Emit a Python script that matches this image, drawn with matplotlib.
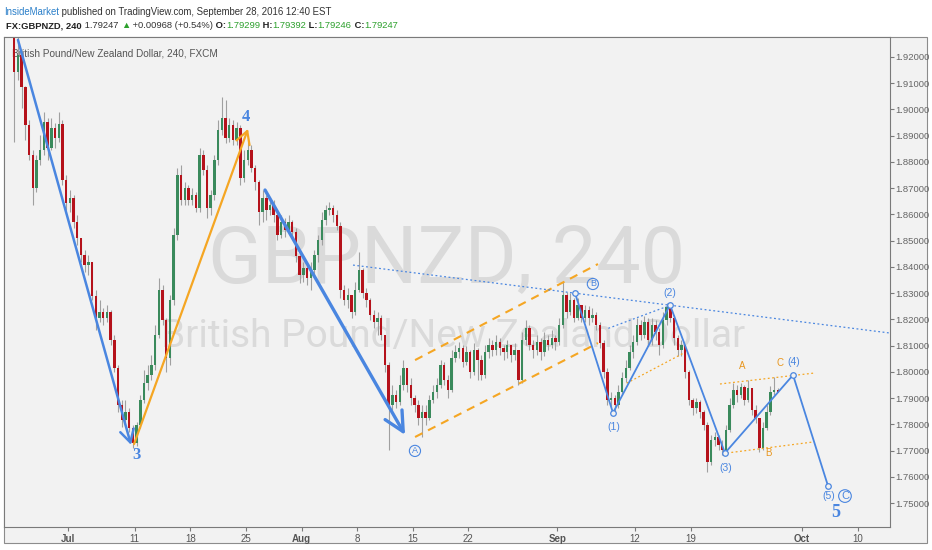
import matplotlib
matplotlib.use('Agg')
import matplotlib.pyplot as plt
import numpy as np
from matplotlib.patches import Rectangle

W, H = 932, 550
FONT = ['Liberation Sans', 'DejaVu Sans']

# ---------------- data ----------------
first_day = -5          # trading-day index of first bar (Jul 1 = 0)
bars_per_day = 3
first_open = 1.9330

closes = [
    1.9143, 1.9208, 1.9086,  1.8941, 1.8826, 1.8701,  1.8807, 1.8846, 1.8952,
    1.8853, 1.8929, 1.8891,  1.8945, 1.8731, 1.8644,  1.8663, 1.8571, 1.8510,
    1.8445, 1.8407, 1.8419,  1.8289, 1.8205, 1.8228,  1.8205, 1.8228, 1.8122,
    1.8015, 1.7874, 1.7817,  1.7847, 1.7786, 1.7729,  1.7798, 1.7893, 1.7958,
    1.7988, 1.8026, 1.8141,  1.8312, 1.8198, 1.8053,  1.8274, 1.8522, 1.8750,
    1.8655, 1.8701, 1.8655,  1.8674, 1.8625, 1.8826,  1.8769, 1.8625, 1.8674,
    1.8807, 1.8922, 1.8968,  1.8891, 1.8941, 1.8884,  1.8929, 1.8739, 1.8807,
    1.8846, 1.8777, 1.8724,  1.8609, 1.8663, 1.8617,  1.8636, 1.8598, 1.8522,
    1.8571, 1.8541, 1.8571,  1.8533, 1.8442, 1.8369,  1.8396, 1.8358, 1.8388,
    1.8445, 1.8503, 1.8579,  1.8617, 1.8625, 1.8598,  1.8556, 1.8312, 1.8274,
    1.8293, 1.8228, 1.8312,  1.8388, 1.8301, 1.8274,  1.8217, 1.8190, 1.8205,
    1.8141, 1.8026, 1.7874,  1.7912, 1.7885, 1.7950,  1.8015, 1.7950, 1.7901,
    1.7874, 1.7824, 1.7847,  1.7824, 1.7893, 1.7923,  1.7950, 1.8026, 1.7969,
    1.7931, 1.8053, 1.8076,  1.8091, 1.8038, 1.8076,  1.8000, 1.8084, 1.8045,
    1.7988, 1.8076, 1.8103,  1.8084, 1.8114, 1.8091,  1.8076, 1.8103, 1.8064,
    1.8084, 1.7969, 1.8122,  1.8167, 1.8103, 1.8084,  1.8114, 1.8076, 1.8122,
    1.8103, 1.8130, 1.8114,  1.8179, 1.8293, 1.8228,  1.8274, 1.8205, 1.8255,
    1.8205, 1.8236, 1.8205,  1.8217, 1.8179, 1.8110,  1.8000, 1.7893, 1.7901,
    1.7874, 1.7923, 1.7977,  1.8015, 1.8076, 1.8114,  1.8179, 1.8141, 1.8190,
    1.8122, 1.8179, 1.8152,  1.8103, 1.8198, 1.8248,  1.8205, 1.8130, 1.8084,
    1.8103, 1.8000, 1.7893,  1.7862, 1.7885, 1.7847,  1.7798, 1.7657, 1.7741,
    1.7752, 1.7722, 1.7702,  1.7779, 1.7874, 1.7931,  1.7912, 1.7943, 1.7893,
    1.7939, 1.7855, 1.7824,  1.7710, 1.7786, 1.7847,  1.7923, 1.7930, 1.79247,
]
highs = [
    1.9350, 1.9284, 1.9227,  1.9090, 1.8960, 1.8846,  1.8826, 1.8903, 1.8990,
    1.8968, 1.8968, 1.8949,  1.8990, 1.8960, 1.8750,  1.8693, 1.8674, 1.8598,
    1.8510, 1.8465, 1.8445,  1.8419, 1.8312, 1.8274,  1.8244, 1.8255, 1.8236,
    1.8141, 1.8026, 1.7893,  1.7893, 1.7862, 1.7798,  1.7809, 1.7912, 1.8007,
    1.8026, 1.8064, 1.8179,  1.8358, 1.8331, 1.8205,  1.8293, 1.8548, 1.8777,
    1.8788, 1.8724, 1.8712,  1.8701, 1.8686, 1.8853,  1.8846, 1.8788, 1.8693,
    1.8826, 1.8960, 1.9047,  1.9036, 1.8968, 1.8960,  1.8952, 1.8941, 1.8846,
    1.8884, 1.8865, 1.8788,  1.8731, 1.8693, 1.8674,  1.8663, 1.8655, 1.8617,
    1.8598, 1.8586, 1.8598,  1.8579, 1.8548, 1.8445,  1.8419, 1.8407, 1.8419,
    1.8465, 1.8522, 1.8609,  1.8636, 1.8648, 1.8636,  1.8617, 1.8571, 1.8331,
    1.8320, 1.8293, 1.8343,  1.8457, 1.8396, 1.8320,  1.8282, 1.8236, 1.8228,
    1.8217, 1.8141, 1.8038,  1.7950, 1.7931, 1.7988,  1.8045, 1.8015, 1.7977,
    1.7912, 1.7893, 1.7874,  1.7874, 1.7912, 1.7950,  1.7977, 1.8045, 1.8038,
    1.7988, 1.8084, 1.8103,  1.8114, 1.8103, 1.8099,  1.8084, 1.8110, 1.8091,
    1.8064, 1.8103, 1.8130,  1.8122, 1.8141, 1.8130,  1.8103, 1.8122, 1.8103,
    1.8110, 1.8084, 1.8152,  1.8198, 1.8179, 1.8122,  1.8141, 1.8130, 1.8152,
    1.8141, 1.8160, 1.8141,  1.8205, 1.8343, 1.8305,  1.8301, 1.8282, 1.8282,
    1.8255, 1.8255, 1.8251,  1.8244, 1.8228, 1.8190,  1.8122, 1.8015, 1.7923,
    1.7912, 1.7950, 1.8000,  1.8045, 1.8103, 1.8141,  1.8205, 1.8198, 1.8213,
    1.8205, 1.8205, 1.8198,  1.8167, 1.8228, 1.8263,  1.8255, 1.8217, 1.8141,
    1.8122, 1.8103, 1.8007,  1.7901, 1.7901, 1.7893,  1.7855, 1.7809, 1.7760,
    1.7771, 1.7760, 1.7741,  1.7798, 1.7901, 1.7958,  1.7950, 1.7958, 1.7950,
    1.7969, 1.7939, 1.7874,  1.7817, 1.7809, 1.7874,  1.7946, 1.7981, 1.79392,
]
lows = [
    1.8876, 1.9112, 1.9006,  1.8884, 1.8807, 1.8636,  1.8686, 1.8788, 1.8826,
    1.8807, 1.8846, 1.8853,  1.8876, 1.8712, 1.8617,  1.8609, 1.8548, 1.8484,
    1.8419, 1.8381, 1.8369,  1.8274, 1.8160, 1.8190,  1.8179, 1.8190, 1.8103,
    1.8000, 1.7847, 1.7790,  1.7798, 1.7771, 1.7710,  1.7718, 1.7786, 1.7882,
    1.7931, 1.7969, 1.8007,  1.8130, 1.8179, 1.8000,  1.8026, 1.8255, 1.8503,
    1.8636, 1.8636, 1.8636,  1.8636, 1.8609, 1.8609,  1.8750, 1.8586, 1.8598,
    1.8655, 1.8788, 1.8903,  1.8872, 1.8876, 1.8865,  1.8865, 1.8712, 1.8724,
    1.8788, 1.8762, 1.8693,  1.8560, 1.8571, 1.8579,  1.8598, 1.8571, 1.8503,
    1.8510, 1.8514, 1.8533,  1.8510, 1.8419, 1.8339,  1.8343, 1.8331, 1.8312,
    1.8369, 1.8419, 1.8484,  1.8560, 1.8598, 1.8571,  1.8541, 1.8282, 1.8255,
    1.8244, 1.8205, 1.8217,  1.8305, 1.8282, 1.8248,  1.8198, 1.8167, 1.8141,
    1.8122, 1.8000, 1.7702,  1.7855, 1.7862, 1.7874,  1.7931, 1.7923, 1.7874,
    1.7847, 1.7798, 1.7752,  1.7798, 1.7817, 1.7882,  1.7901, 1.7939, 1.7950,
    1.7901, 1.7923, 1.8038,  1.8053, 1.8019, 1.8026,  1.7977, 1.7988, 1.7969,
    1.7969, 1.7977, 1.8053,  1.8061, 1.8064, 1.8064,  1.8045, 1.8053, 1.8038,
    1.8045, 1.7950, 1.7958,  1.8103, 1.8084, 1.8053,  1.8064, 1.8045, 1.8061,
    1.8084, 1.8091, 1.8084,  1.8103, 1.8167, 1.8205,  1.8217, 1.8190, 1.8198,
    1.8190, 1.8190, 1.8179,  1.8190, 1.8160, 1.8091,  1.7977, 1.7874, 1.7866,
    1.7843, 1.7862, 1.7912,  1.7962, 1.8007, 1.8053,  1.8103, 1.8122, 1.8130,
    1.8103, 1.8103, 1.8122,  1.8064, 1.8091, 1.8179,  1.8190, 1.8103, 1.8061,
    1.8061, 1.7977, 1.7874,  1.7836, 1.7843, 1.7824,  1.7779, 1.7619, 1.7645,
    1.7718, 1.7702, 1.7683,  1.7683, 1.7771, 1.7862,  1.7885, 1.7901, 1.7874,
    1.7885, 1.7836, 1.7805,  1.7695, 1.7702, 1.7779,  1.7836, 1.7912, 1.79246,
]

tick_days = [0, 6, 11, 16, 21, 26, 31, 36, 44, 51, 56, 66, 71]
tick_labels = ['Jul', '11', '18', '25', 'Aug', '8', '15', '22', 'Sep', '12', '19', 'Oct', '10']
month_labels = ['Jul', 'Aug', 'Sep', 'Oct']
price_ticks = [1.75, 1.76, 1.77, 1.78, 1.79, 1.80, 1.81, 1.82, 1.83,
               1.84, 1.85, 1.86, 1.87, 1.88, 1.89, 1.90, 1.91, 1.92]

# drawings (day index, price)
arrow1 = [(-4.50, 1.9265), (5.67, 1.7722)]
arrow_orange = [(5.94, 1.7725), (16.19, 1.8926)]
arrow2 = [(17.72, 1.8693), (30.31, 1.7760)]
chan_upper = [(31.21, 1.8045), (47.66, 1.8411)]
chan_lower = [(31.21, 1.7752), (47.66, 1.8110)]
trend_dotted = [(25.63, 1.8407), (74.5, 1.8145)]
sub_blue_dotted = [(48.59, 1.8166), (53.84, 1.8249)]
sub_orange_dotted = [(50.24, 1.7957), (55.33, 1.8071)]
abc_upper = [(58.63, 1.7954), (67.18, 1.7996)]
abc_lower = [(59.26, 1.7691), (67.00, 1.7733)]
wave_days = [45.59, 49.01, 54.14, 59.08, 65.20, 68.35]
wave_prices = [1.8301, 1.7844, 1.8255, 1.7691, 1.7988, 1.7565]

# ---------------- figure ----------------
BLUE = '#4a86e0'
ORANGE = '#f5a623'
UP = '#3a8a5c'
DOWN = '#b5121b'
BG = '#f2f2f2'

fig = plt.figure(figsize=(W / 100, H / 100), dpi=100, facecolor='white')
fig.patches.append(Rectangle((4 / W, 1 - 543 / H), (927 - 4) / W, (543 - 37) / H,
                             transform=fig.transFigure, facecolor=BG,
                             edgecolor='#8c8c8c', lw=0.8, zorder=-5))

ax = fig.add_axes([4 / W, 1 - 527 / H, (890 - 4) / W, (527 - 37) / H])
ax.set_zorder(1)
ax.set_facecolor(BG)
ax.set_xlim(-5.755, 73.92)
ax.set_ylim(1.74091, 1.92760)
for s in ax.spines.values():
    s.set_color('#7a7a7a')
    s.set_linewidth(0.8)

# watermark
ax.text(447 / W, 1 - 283 / H, 'GBPNZD, 240', transform=fig.transFigure, fontsize=57,
        family=['Roboto', 'DejaVu Sans'], color='#dadada', ha='center', va='baseline', zorder=0.5)
ax.text(453 / W, 1 - 347 / H, 'British Pound/New Zealand Dollar', transform=fig.transFigure,
        fontsize=28, family=['Roboto', 'DejaVu Sans'], color='#dadada', ha='center',
        va='baseline', zorder=0.5)
ax.text(12 / W, 1 - 53 / H, 'British Pound/New Zealand Dollar, 240, FXCM',
        transform=fig.transFigure, fontsize=7.2, family=FONT, color='#555555',
        ha='left', va='center', zorder=1)

# candles
c = np.array(closes)
o = np.concatenate([[first_open], c[:-1]])
h = np.maximum(np.array(highs), np.maximum(o, c))
l = np.minimum(np.array(lows), np.minimum(o, c))
n = len(c)
xs = first_day + (np.arange(n) + 0.5) / bars_per_day
ax.vlines(xs, l, h, color='#a0a0a0', lw=0.8, zorder=2)
colors = [UP if cc >= oo else DOWN for oo, cc in zip(o, c)]
body = np.maximum(np.abs(c - o), 0.0003)
ax.bar(xs, body, bottom=np.minimum(o, c), width=0.22, color=colors, lw=0, zorder=2.5)

# arrows
def arrow(pts, color, lw, hl, hw):
    ax.annotate('', xy=pts[1], xytext=pts[0],
                arrowprops=dict(arrowstyle='->,head_length=%s,head_width=%s' % (hl, hw),
                                color=color, lw=lw, shrinkA=0, shrinkB=0,
                                mutation_scale=20), zorder=4)

arrow(arrow1, BLUE, 1.8, 0.45, 0.25)
arrow(arrow_orange, ORANGE, 1.6, 0.45, 0.25)
arrow(arrow2, BLUE, 2.4, 0.7, 0.35)

# channels / trendlines
def seg(pts, **kw):
    ax.plot([pts[0][0], pts[1][0]], [pts[0][1], pts[1][1]], **kw)

seg(chan_upper, color=ORANGE, lw=1.5, ls=(0, (4, 3)), zorder=3)
seg(chan_lower, color=ORANGE, lw=1.5, ls=(0, (4, 3)), zorder=3)
seg(trend_dotted, color=BLUE, lw=0.9, ls=(0, (1.5, 2)), zorder=3, clip_on=True)
seg(sub_blue_dotted, color=BLUE, lw=0.9, ls=(0, (1.5, 2)), zorder=3)
seg(sub_orange_dotted, color=ORANGE, lw=0.9, ls=(0, (1.5, 2)), zorder=3)
seg(abc_upper, color=ORANGE, lw=0.9, ls=(0, (1.5, 2)), zorder=3)
seg(abc_lower, color=ORANGE, lw=0.9, ls=(0, (1.5, 2)), zorder=3)

# wave path
ax.plot(wave_days, wave_prices, color=BLUE, lw=1.3, zorder=4)
ax.plot(wave_days, wave_prices, 'o', ms=4, mfc=BG, mec=BLUE, mew=0.9, zorder=4.5)

# labels
SERIF = ['Liberation Serif', 'DejaVu Serif']
ax.text(6.2, 1.7683, '3', color=BLUE, fontsize=12, fontweight='bold', family=SERIF,
        ha='center', va='center', zorder=5)
ax.text(16.0, 1.8971, '4', color=BLUE, fontsize=12, fontweight='bold', family=SERIF,
        ha='center', va='center', zorder=5)
ax.text(69.06, 1.7463, '5', color=BLUE, fontsize=13, fontweight='bold', family=SERIF,
        ha='center', va='center', zorder=5)

def circled(d, p, letter, size):
    ax.text(d, p, letter, color=BLUE, fontsize=size, family=FONT, ha='center', va='center',
            bbox=dict(boxstyle='circle,pad=0.12', fc='none', ec=BLUE, lw=0.8), zorder=5)

circled(31.20, 1.7699, 'A', 6.5)
circled(47.20, 1.8335, 'B', 6.5)
circled(69.87, 1.7527, 'C', 8)

for d, p, t in [(49.05, 1.7790, '(1)'), (54.14, 1.8301, '(2)'), (59.15, 1.7634, '(3)'),
                (65.25, 1.8038, '(4)'), (68.45, 1.7527, '(5)')]:
    ax.text(d, p, t, color=BLUE, fontsize=7.5, family=FONT, ha='center', va='center', zorder=5)
for d, p, t in [(60.61, 1.8023, 'A'), (62.95, 1.7691, 'B'), (64.0, 1.8034, 'C')]:
    ax.text(d, p, t, color='#e8961e', fontsize=7, family=FONT, ha='center', va='center', zorder=5)

# axes ticks
ax.yaxis.tick_right()
ax.set_yticks(price_ticks)
ax.set_yticklabels(['%.5f' % v for v in price_ticks])
ax.tick_params(axis='y', direction='out', length=3, width=0.8, color='#7a7a7a',
               labelsize=6.8, labelcolor='#666666', pad=1)
ax.set_xticks(tick_days)
ax.set_xticklabels(tick_labels)
ax.tick_params(axis='x', direction='out', length=3, width=0.8, color='#7a7a7a',
               labelsize=7, labelcolor='#555555', pad=2)
for lab in ax.get_xticklabels() + ax.get_yticklabels():
    lab.set_family(FONT)
for lab in ax.get_xticklabels():
    if lab.get_text() in month_labels:
        lab.set_fontweight('bold')

# header text runs
fig.canvas.draw()
renderer = fig.canvas.get_renderer()

def runs(x_px, y_px, items, size):
    x = x_px
    for txt, color, weight in items:
        t = fig.text(x / W, 1 - y_px / H, txt, color=color, fontsize=size, fontweight=weight,
                     family=FONT, ha='left', va='center')
        bb = t.get_window_extent(renderer=renderer)
        x = bb.x1

GREEN = '#2ca02c'
runs(4, 12, [('InsideMarket', '#2a7fc9', 'normal'),
             (' published on TradingView.com, September 28, 2016 12:40 EST', '#333333', 'normal')], 6.9)
runs(6, 26, [('FX:GBPNZD, 240', '#222222', 'bold'),
             (' 1.79247 ', '#333333', 'normal'),
             ('\u25B2', GREEN, 'normal'),
             (' +0.00968 (+0.54%)', '#333333', 'normal'),
             (' O:', '#222222', 'bold'), ('1.79299', GREEN, 'normal'),
             (' H:', '#222222', 'bold'), ('1.79392', GREEN, 'normal'),
             (' L:', '#222222', 'bold'), ('1.79246', GREEN, 'normal'),
             (' C:', '#222222', 'bold'), ('1.79247', GREEN, 'normal')], 6.75)

fig.savefig('out.png', dpi=100, facecolor='white')
